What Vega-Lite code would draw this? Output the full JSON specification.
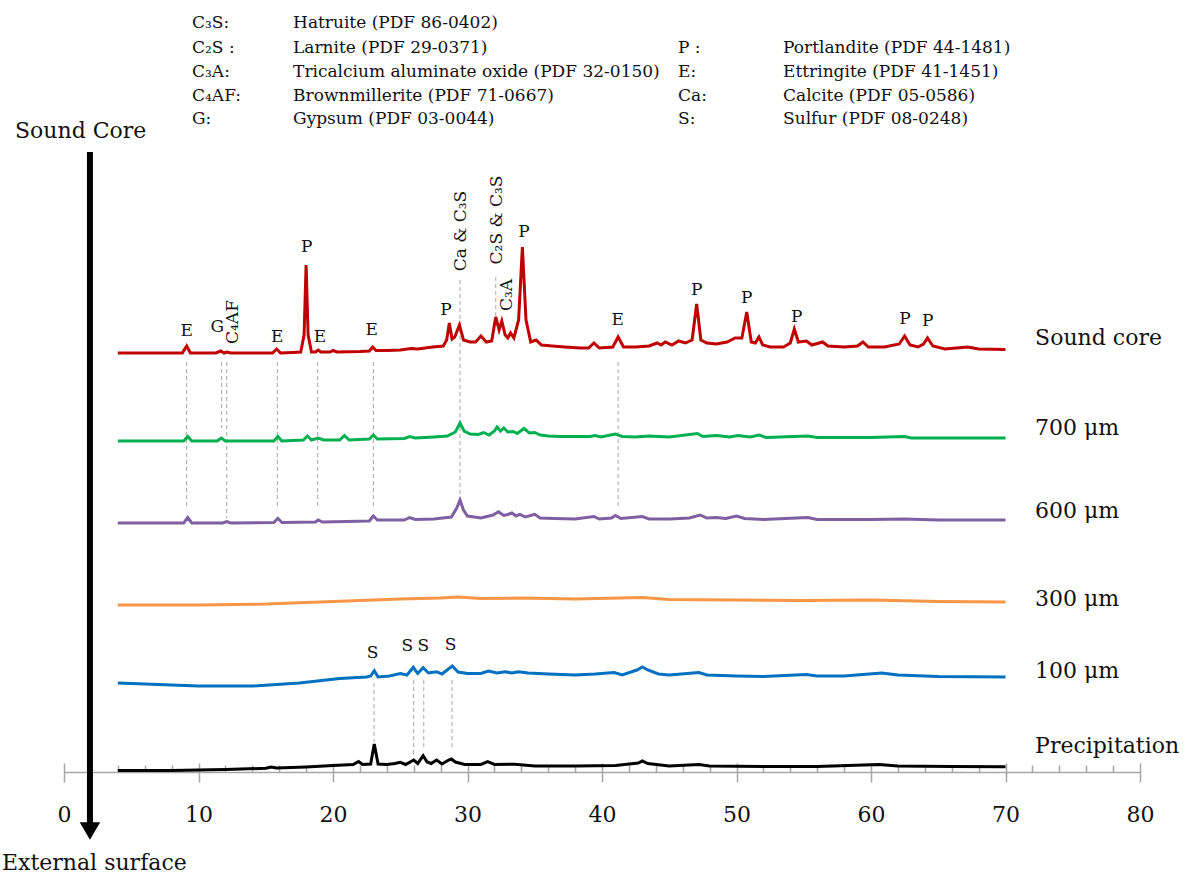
{
"$schema": "https://vega.github.io/schema/vega-lite/v6.json",
"width": 1076, "height": 772,
"autosize": {"type": "none"},
"padding": {"left": 64, "top": 0, "right": 52, "bottom": 106},
"background": "white",
"config": {"view": {"stroke": null}, "text": {"font": "DejaVu Serif", "color": "#111111"}},
"datasets": {
"red": [
{"x":4,"y":419},{"x":6,"y":419},{"x":8.8,"y":419},{"x":9.12,"y":426},{"x":9.4,"y":419},{"x":11.3,"y":419},{"x":11.65,"y":421},{"x":11.9,"y":419},{"x":12.1,"y":420},{"x":12.4,"y":419},{"x":15.5,"y":419},{"x":15.81,"y":423},{"x":16.1,"y":419},{"x":17.0,"y":419.5},{"x":17.6,"y":420},{"x":17.85,"y":437},{"x":18.0,"y":507},{"x":18.15,"y":437},{"x":18.4,"y":420},{"x":18.7,"y":420},{"x":18.9,"y":422},{"x":19.1,"y":420},{"x":19.8,"y":420},{"x":20.0,"y":421.5},{"x":20.3,"y":420},{"x":22.0,"y":420.5},{"x":22.7,"y":421},{"x":22.95,"y":425},{"x":23.2,"y":421.5},{"x":24.0,"y":421.5},{"x":25.0,"y":422},{"x":25.8,"y":423.5},{"x":26.3,"y":423},{"x":27.4,"y":425},{"x":28.2,"y":426},{"x":28.45,"y":432},{"x":28.65,"y":449},{"x":28.85,"y":433},{"x":29.05,"y":435},{"x":29.4,"y":447},{"x":29.7,"y":432},{"x":30.2,"y":430},{"x":30.6,"y":430},{"x":31.0,"y":436},{"x":31.4,"y":430},{"x":31.8,"y":431},{"x":32.1,"y":455},{"x":32.35,"y":442},{"x":32.55,"y":451},{"x":32.8,"y":437},{"x":33.0,"y":434},{"x":33.2,"y":439},{"x":33.45,"y":434},{"x":33.8,"y":452},{"x":34.08,"y":525},{"x":34.35,"y":452},{"x":34.7,"y":430},{"x":35.1,"y":432},{"x":35.5,"y":427},{"x":36.3,"y":426},{"x":37.2,"y":425},{"x":38.4,"y":424},{"x":39.0,"y":424},{"x":39.4,"y":429},{"x":39.8,"y":424},{"x":40.8,"y":425},{"x":41.2,"y":435},{"x":41.6,"y":425},{"x":42.5,"y":425},{"x":43.5,"y":426},{"x":44.1,"y":429},{"x":44.4,"y":427},{"x":44.7,"y":430},{"x":45.2,"y":427},{"x":45.7,"y":431},{"x":46.2,"y":429},{"x":46.7,"y":432},{"x":47.04,"y":468},{"x":47.35,"y":432},{"x":47.8,"y":429},{"x":48.5,"y":428},{"x":49.3,"y":430},{"x":49.9,"y":434},{"x":50.4,"y":434},{"x":50.76,"y":460},{"x":51.1,"y":430},{"x":51.4,"y":429},{"x":51.67,"y":435},{"x":51.95,"y":427},{"x":52.5,"y":425},{"x":53.5,"y":425},{"x":54.0,"y":429},{"x":54.3,"y":443},{"x":54.6,"y":430},{"x":55.2,"y":431},{"x":55.6,"y":427},{"x":56.4,"y":430},{"x":56.8,"y":426},{"x":58,"y":425},{"x":59.0,"y":426},{"x":59.4,"y":430},{"x":59.8,"y":425},{"x":61,"y":425},{"x":62.1,"y":428},{"x":62.5,"y":436},{"x":62.9,"y":427},{"x":63.5,"y":425},{"x":63.9,"y":428},{"x":64.2,"y":434},{"x":64.6,"y":426},{"x":65.5,"y":423},{"x":67.2,"y":425},{"x":68,"y":423},{"x":70,"y":422.5}
],
"green": [
{"x":4,"y":331},{"x":8.9,"y":331},{"x":9.2,"y":335.5},{"x":9.5,"y":331},{"x":11.4,"y":331},{"x":11.7,"y":334},{"x":12.0,"y":331},{"x":15.6,"y":331},{"x":15.9,"y":335.5},{"x":16.2,"y":331},{"x":17.8,"y":332},{"x":18.1,"y":336},{"x":18.4,"y":332},{"x":18.9,"y":334},{"x":19.3,"y":332},{"x":20.5,"y":332},{"x":20.85,"y":336.5},{"x":21.2,"y":332},{"x":22.7,"y":333},{"x":23.0,"y":337},{"x":23.3,"y":333},{"x":25.3,"y":333.5},{"x":25.7,"y":335.5},{"x":26.1,"y":334},{"x":27.5,"y":335},{"x":28.5,"y":336},{"x":29.1,"y":340},{"x":29.44,"y":349},{"x":29.75,"y":341},{"x":30.2,"y":338},{"x":30.8,"y":337.5},{"x":31.2,"y":339.5},{"x":31.6,"y":337},{"x":32.0,"y":341},{"x":32.2,"y":345},{"x":32.45,"y":341},{"x":32.7,"y":344},{"x":33.0,"y":340},{"x":33.4,"y":340.5},{"x":33.7,"y":338.5},{"x":34.2,"y":343.5},{"x":34.6,"y":339},{"x":35.0,"y":339.5},{"x":35.4,"y":337},{"x":36,"y":336},{"x":37,"y":335.5},{"x":39.1,"y":335.5},{"x":39.5,"y":336.5},{"x":39.9,"y":335},{"x":41.0,"y":338},{"x":41.5,"y":335.5},{"x":42.5,"y":335},{"x":43.5,"y":336},{"x":45,"y":335},{"x":47.1,"y":338.5},{"x":47.5,"y":335.5},{"x":48.5,"y":336.5},{"x":49.5,"y":335},{"x":50.1,"y":336.5},{"x":51.0,"y":335},{"x":51.7,"y":337},{"x":52.2,"y":334.5},{"x":55.3,"y":336},{"x":56,"y":334.5},{"x":60,"y":334.5},{"x":62.5,"y":335.5},{"x":63,"y":334},{"x":66,"y":334},{"x":70,"y":334}
],
"purple": [
{"x":4,"y":249},{"x":8.9,"y":249},{"x":9.2,"y":254.5},{"x":9.5,"y":249},{"x":11.8,"y":249},{"x":12.1,"y":250.5},{"x":12.4,"y":249},{"x":15.6,"y":249.5},{"x":15.9,"y":253.7},{"x":16.2,"y":249.5},{"x":18.7,"y":250},{"x":18.9,"y":252},{"x":19.2,"y":250},{"x":21,"y":250.5},{"x":22.7,"y":251},{"x":23.0,"y":256},{"x":23.3,"y":252},{"x":25.3,"y":252},{"x":25.7,"y":254.5},{"x":26.1,"y":252.5},{"x":27.5,"y":253},{"x":28.8,"y":255},{"x":29.2,"y":264},{"x":29.44,"y":272},{"x":29.7,"y":262},{"x":30.0,"y":256},{"x":31.0,"y":254},{"x":31.9,"y":257},{"x":32.3,"y":260.3},{"x":32.7,"y":256.5},{"x":33.0,"y":257.5},{"x":33.3,"y":259},{"x":33.6,"y":256},{"x":33.9,"y":257.7},{"x":34.3,"y":255},{"x":35.0,"y":257.7},{"x":35.4,"y":254},{"x":36.5,"y":253.5},{"x":38,"y":253},{"x":39.4,"y":255.5},{"x":39.8,"y":253},{"x":40.7,"y":254},{"x":41.0,"y":256.5},{"x":41.4,"y":253.5},{"x":43.0,"y":255.5},{"x":43.5,"y":253},{"x":45,"y":253},{"x":46.5,"y":254},{"x":47.3,"y":257},{"x":47.8,"y":254},{"x":48.5,"y":254.5},{"x":49.2,"y":253.5},{"x":50.0,"y":256},{"x":50.6,"y":253.5},{"x":52,"y":252.5},{"x":55.3,"y":254.5},{"x":56,"y":252.5},{"x":60,"y":252.5},{"x":62.5,"y":253},{"x":65,"y":252},{"x":70,"y":252}
],
"orange": [
{"x":4,"y":167},{"x":10,"y":167},{"x":15,"y":168},{"x":20,"y":170.5},{"x":23,"y":172},{"x":25,"y":173},{"x":28,"y":174},{"x":29.3,"y":175},{"x":31,"y":173.5},{"x":34,"y":174},{"x":38,"y":173},{"x":43,"y":174.5},{"x":45,"y":172.5},{"x":50,"y":172},{"x":55,"y":171.5},{"x":60,"y":172},{"x":65,"y":170.5},{"x":70,"y":170}
],
"blue": [
{"x":4,"y":89},{"x":7,"y":87.5},{"x":10,"y":86},{"x":14,"y":86},{"x":17.5,"y":89},{"x":20.5,"y":93.5},{"x":22.5,"y":95},{"x":22.8,"y":96},{"x":23.07,"y":101.3},{"x":23.35,"y":95},{"x":24.2,"y":96},{"x":25.0,"y":98.5},{"x":25.5,"y":97},{"x":25.97,"y":104.7},{"x":26.3,"y":98.5},{"x":26.7,"y":104.3},{"x":27.1,"y":99},{"x":27.7,"y":100.3},{"x":28.1,"y":98},{"x":28.87,"y":106},{"x":29.3,"y":100},{"x":30,"y":98.5},{"x":31,"y":98.5},{"x":31.55,"y":101},{"x":32.2,"y":99},{"x":32.8,"y":100.3},{"x":33.3,"y":99},{"x":33.8,"y":100.3},{"x":34.5,"y":99},{"x":36,"y":98},{"x":38,"y":97},{"x":39.5,"y":98},{"x":40.9,"y":99.5},{"x":41.5,"y":97},{"x":42.6,"y":102},{"x":43.0,"y":105},{"x":43.4,"y":102},{"x":44.2,"y":98},{"x":45,"y":97},{"x":47.2,"y":99.5},{"x":47.8,"y":97},{"x":50,"y":96},{"x":52,"y":95.5},{"x":55.2,"y":97.5},{"x":56,"y":96},{"x":58,"y":96},{"x":60.8,"y":99},{"x":62,"y":97},{"x":65,"y":95.5},{"x":70,"y":95}
],
"black": [
{"x":4,"y":1.5},{"x":8,"y":1.5},{"x":10,"y":2},{"x":12,"y":2.5},{"x":15,"y":3.7},{"x":15.4,"y":5},{"x":15.8,"y":4},{"x":18,"y":5},{"x":20,"y":6.5},{"x":21.5,"y":7.5},{"x":21.9,"y":10.5},{"x":22.2,"y":7.5},{"x":22.8,"y":8},{"x":23.07,"y":28},{"x":23.35,"y":8},{"x":24.0,"y":7.5},{"x":24.6,"y":8.5},{"x":25.0,"y":9.7},{"x":25.4,"y":7.5},{"x":26.0,"y":12},{"x":26.3,"y":8.5},{"x":26.7,"y":16.3},{"x":27.0,"y":10},{"x":27.3,"y":8.5},{"x":27.7,"y":12},{"x":28.1,"y":8},{"x":28.6,"y":12},{"x":28.8,"y":13},{"x":29.1,"y":10},{"x":29.8,"y":7.5},{"x":31.0,"y":7.5},{"x":31.5,"y":10.3},{"x":32.0,"y":7.5},{"x":33.5,"y":7.7},{"x":35,"y":6},{"x":38,"y":6},{"x":41,"y":6.5},{"x":42.7,"y":9},{"x":43.0,"y":11},{"x":43.4,"y":8.5},{"x":45,"y":6},{"x":47.2,"y":7.5},{"x":48,"y":6},{"x":52,"y":5.5},{"x":56,"y":5.5},{"x":60.6,"y":7.5},{"x":62,"y":6},{"x":66,"y":5.5},{"x":70,"y":5.3}
],
"dash": [
{"x":9.12,"y":410,"y2":266},{"x":11.72,"y":410,"y2":344},{"x":12.1,"y":410,"y2":254},{"x":15.86,"y":410,"y2":265},{"x":18.86,"y":410,"y2":265},{"x":23.0,"y":410,"y2":265},{"x":29.44,"y":492,"y2":272},{"x":32.1,"y":495,"y2":456},{"x":41.2,"y":410,"y2":265},{"x":23.05,"y":89,"y2":30},{"x":26.0,"y":92,"y2":15},{"x":26.75,"y":92,"y2":22},{"x":28.85,"y":92,"y2":25}
],
"arrow": [{"x":1.93,"y":620,"y2":-51}],
"head": [{"x":1.93,"y":-59}],
"peaks": [
{"x":9.12,"y":441,"t":"E"},{"x":11.4,"y":445,"t":"G"},{"x":15.86,"y":435,"t":"E"},{"x":18.05,"y":525,"t":"P"},{"x":19.03,"y":435,"t":"E"},{"x":22.88,"y":442,"t":"E"},{"x":28.4,"y":462,"t":"P"},{"x":34.2,"y":540,"t":"P"},{"x":41.17,"y":452,"t":"E"},{"x":47.04,"y":482,"t":"P"},{"x":50.76,"y":474,"t":"P"},{"x":54.47,"y":455,"t":"P"},{"x":62.53,"y":453,"t":"P"},{"x":64.22,"y":451,"t":"P"},
{"x":22.95,"y":119,"t":"S"},{"x":25.52,"y":126,"t":"S"},{"x":26.71,"y":126,"t":"S"},{"x":28.75,"y":127,"t":"S"}
],
"rot": [
{"x":12.59,"y":450,"t":"C₄AF"},{"x":29.5,"y":541,"t":"Ca & C₃S"},{"x":32.17,"y":552,"t":"C₂S & C₃S"},{"x":32.94,"y":477,"t":"C₃A"}
],
"names": [
{"x":72.2,"y":434,"t":"Sound core"},{"x":72.2,"y":344,"t":"700 μm"},{"x":72.2,"y":261,"t":"600 μm"},{"x":72.2,"y":173,"t":"300 μm"},{"x":72.2,"y":101,"t":"100 μm"},{"x":72.2,"y":26,"t":"Precipitation"},{"x":-3.64,"y":641,"t":"Sound Core"},{"x":-4.61,"y":-91,"t":"External surface"}
],
"legend": [
{"x":9.52,"y":743.7,"t":"C₃S:"},{"x":17.03,"y":743.7,"t":"Hatruite (PDF 86-0402)"},
{"x":9.52,"y":719.3,"t":"C₂S :"},{"x":17.03,"y":719.3,"t":"Larnite (PDF 29-0371)"},
{"x":9.52,"y":695.3,"t":"C₃A:"},{"x":17.03,"y":695.3,"t":"Tricalcium aluminate oxide (PDF 32-0150)"},
{"x":9.52,"y":671.3,"t":"C₄AF:"},{"x":17.03,"y":671.3,"t":"Brownmillerite (PDF 71-0667)"},
{"x":9.52,"y":648,"t":"G:"},{"x":17.03,"y":648,"t":"Gypsum (PDF 03-0044)"},
{"x":45.65,"y":719.3,"t":"P :"},{"x":53.46,"y":719.3,"t":"Portlandite (PDF 44-1481)"},
{"x":45.65,"y":695.3,"t":"E:"},{"x":53.46,"y":695.3,"t":"Ettringite (PDF 41-1451)"},
{"x":45.65,"y":671.3,"t":"Ca:"},{"x":53.46,"y":671.3,"t":"Calcite (PDF 05-0586)"},
{"x":45.65,"y":648,"t":"S:"},{"x":53.46,"y":648,"t":"Sulfur (PDF 08-0248)"}
]
},
"encoding": {
"x": {"field": "x", "type": "quantitative", "scale": {"domain": [0, 80], "nice": false, "zero": false}, "axis": null},
"y": {"field": "y", "type": "quantitative", "scale": {"domain": [0, 772], "nice": false, "zero": false}, "axis": null}
},
"resolve": {"axis": {"x": "independent"}},
"layer": [
{"data": {"name": "dash"}, "mark": {"type": "rule", "color": "#A6A6A6", "strokeWidth": 1, "strokeDash": [4, 3]},
 "encoding": {
  "x": {"field": "x", "type": "quantitative", "scale": {"domain": [0, 80], "nice": false, "zero": false},
   "axis": {"orient": "bottom", "values": [0,10,20,30,40,50,60,70,80], "tickSize": 10, "tickColor": "#A6A6A6", "tickWidth": 1.5, "domainColor": "#A6A6A6", "domainWidth": 1.5, "labelFont": "DejaVu Serif", "labelFontSize": 22, "labelColor": "#111111", "labelPadding": 22, "labelFlush": false, "labelOverlap": false, "grid": false, "title": null}},
  "y2": {"field": "y2"}}},
{"data": {"name": "arrow"}, "mark": {"type": "rule", "color": "black", "strokeWidth": 6},
 "encoding": {
  "x": {"field": "x", "type": "quantitative", "scale": {"domain": [0, 80], "nice": false, "zero": false},
   "axis": {"orient": "bottom", "values": [2,4,6,8,12,14,16,18,22,24,26,28,32,34,36,38,42,44,46,48,52,54,56,58,62,64,66,68,72,74,76,78], "tickSize": -7, "tickColor": "#A6A6A6", "tickWidth": 1.5, "domain": false, "labels": false, "grid": false, "title": null}},
  "y2": {"field": "y2"}}},
{"data": {"name": "head"}, "mark": {"type": "point", "shape": "triangle-down", "filled": true, "color": "black", "size": 420, "opacity": 1},
 "encoding": {
  "x": {"field": "x", "type": "quantitative", "scale": {"domain": [0, 80], "nice": false, "zero": false},
   "axis": {"orient": "bottom", "values": [0,10,20,30,40,50,60,70,80], "tickSize": -9, "tickColor": "#A6A6A6", "tickWidth": 1.5, "domain": false, "labels": false, "grid": false, "title": null}}}},
{"data": {"name": "orange"}, "mark": {"type": "line", "color": "#F79646", "strokeWidth": 3}, "encoding": {}},
{"data": {"name": "blue"}, "mark": {"type": "line", "color": "#0070C0", "strokeWidth": 3}, "encoding": {}},
{"data": {"name": "purple"}, "mark": {"type": "line", "color": "#7F5FA1", "strokeWidth": 3}, "encoding": {}},
{"data": {"name": "green"}, "mark": {"type": "line", "color": "#00B050", "strokeWidth": 3}, "encoding": {}},
{"data": {"name": "red"}, "mark": {"type": "line", "color": "#C00000", "strokeWidth": 3}, "encoding": {}},
{"data": {"name": "black"}, "mark": {"type": "line", "color": "#000000", "strokeWidth": 3}, "encoding": {}},
{"data": {"name": "peaks"}, "mark": {"type": "text", "fontSize": 17, "align": "center", "baseline": "middle"}, "encoding": {"text": {"field": "t"}}},
{"data": {"name": "rot"}, "mark": {"type": "text", "fontSize": 17, "align": "center", "baseline": "middle", "angle": 270}, "encoding": {"text": {"field": "t"}}},
{"data": {"name": "names"}, "mark": {"type": "text", "fontSize": 22, "align": "left", "baseline": "middle"}, "encoding": {"text": {"field": "t"}}},
{"data": {"name": "legend"}, "mark": {"type": "text", "fontSize": 17, "align": "left", "baseline": "alphabetic"}, "encoding": {"text": {"field": "t"}}}
]
}
